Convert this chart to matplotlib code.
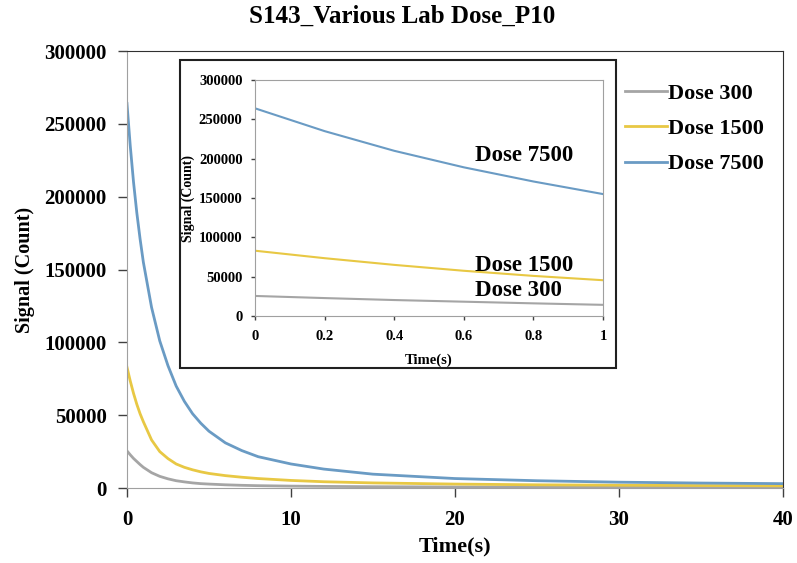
import matplotlib
matplotlib.use("Agg")
import matplotlib.pyplot as plt
from matplotlib.patches import Rectangle

plt.rcParams['font.family'] = ['Liberation Serif', 'DejaVu Serif']
plt.rcParams['font.weight'] = 'bold'

# decay curves, signal counts vs time (s)
time_s = [0, 0.2, 0.4, 0.6, 0.8, 1.0, 1.5, 2, 2.5, 3, 3.5, 4, 4.5, 5, 6, 7, 8,
          10, 12, 15, 20, 25, 30, 35, 40]
dose_300 = [25500, 22800, 20300, 18200, 16100, 14200, 10500, 8000, 6300, 5000,
            4200, 3500, 3000, 2700, 2200, 1850, 1600, 1300, 1100, 900, 700,
            600, 500, 450, 400]
dose_1500 = [83000, 73500, 65000, 57500, 51000, 45500, 33000, 25000, 20200,
             16500, 14200, 12500, 11100, 10000, 8500, 7400, 6500, 5200, 4300,
             3500, 2700, 2200, 1900, 1700, 1500]
dose_7500 = [264000, 235000, 210000, 189000, 171000, 155000, 124000, 101000,
             84000, 70000, 59500, 51000, 44500, 39000, 31000, 25700, 21500,
             16500, 13000, 9500, 6500, 5000, 4000, 3400, 3000]

series = [("Dose 300", dose_300, "#a5a5a5"),
          ("Dose 1500", dose_1500, "#e8c844"),
          ("Dose 7500", dose_7500, "#6a9bc4")]

y_ticks = [0, 50000, 100000, 150000, 200000, 250000, 300000]

fig = plt.figure(figsize=(7.97, 5.63), dpi=100)
ax = fig.add_axes([0.1593, 0.1332, 0.8231, 0.7762])

for name, vals, col in series:
    ax.plot(time_s, vals, color=col, lw=2.0, label=name)

ax.set_xlim(0, 40)
ax.set_ylim(0, 300000)
ax.set_xticks([0, 10, 20, 30, 40])
ax.set_yticks(y_ticks)
ax.tick_params(axis='both', labelsize=15, length=6.5, width=1,
               color='#404040', direction='out')
ax.tick_params(axis='x', pad=9)
ax.tick_params(axis='y', pad=8)
for side in ['left', 'bottom']:
    ax.spines[side].set_color('#a0a0a0')
for side in ['top', 'right']:
    ax.spines[side].set_color('#303030')
ax.set_xlabel("Time(s)", fontsize=16, fontweight='bold', labelpad=5)
ax.set_ylabel("Signal (Count)", fontsize=14.5, fontweight='bold', labelpad=7)
fig.text(0.505, 0.9716, "S143_Various Lab Dose_P10", fontsize=18,
         fontweight='bold', ha='center', va='center')

ax.legend(loc='upper left', bbox_to_anchor=(0.784, 0.852),
          bbox_transform=fig.transFigure, frameon=False, fontsize=16,
          handlelength=1.9, handletextpad=0.05, labelspacing=0.66,
          borderaxespad=0, borderpad=0)

# frame around the zoomed panel
fig.patches.append(Rectangle((0.2258, 0.3464), 0.5471, 0.547,
                             transform=fig.transFigure, fill=True,
                             facecolor='white', edgecolor='#202020',
                             lw=1.5, zorder=3))

inset = fig.add_axes([0.320, 0.4387, 0.4366, 0.4192], zorder=5)
for name, vals, col in series:
    inset.plot(time_s, vals, color=col, lw=1.5)
inset.set_xlim(0, 1)
inset.set_ylim(0, 300000)
inset.set_xticks([0, 0.2, 0.4, 0.6, 0.8, 1])
inset.set_xticklabels(["0", "0.2", "0.4", "0.6", "0.8", "1"])
inset.set_yticks(y_ticks)
inset.tick_params(axis='both', labelsize=10.5, length=3, width=1,
                  color='#404040', direction='out')
inset.tick_params(axis='x', pad=7)
inset.tick_params(axis='y', pad=6)
for side in inset.spines.values():
    side.set_color('#a0a0a0')
inset.set_xlabel("Time(s)", fontsize=10.5, fontweight='bold', labelpad=8)
inset.set_ylabel("Signal (Count)", fontsize=10, fontweight='bold')
inset.yaxis.set_label_coords(-0.172, 0.5)

inset.text(0.632, 0.682, "Dose 7500", transform=inset.transAxes, ha='left',
           va='center', fontsize=16.5, fontweight='bold')
inset.text(0.632, 0.216, "Dose 1500", transform=inset.transAxes, ha='left',
           va='center', fontsize=16.5, fontweight='bold')
inset.text(0.632, 0.106, "Dose 300", transform=inset.transAxes, ha='left',
           va='center', fontsize=16.5, fontweight='bold')

fig.savefig("out.png", dpi=100)
